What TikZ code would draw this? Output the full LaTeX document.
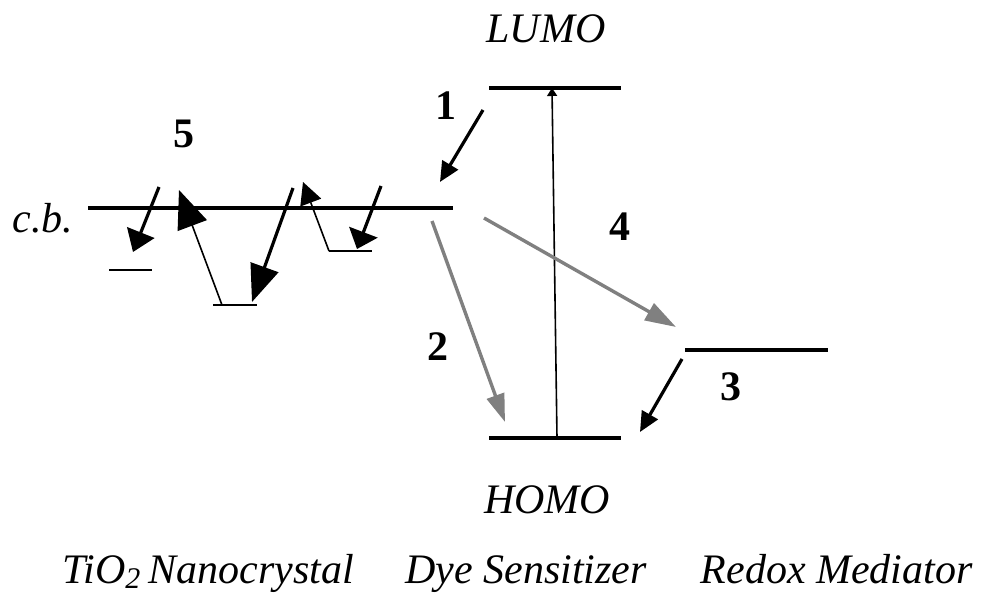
\documentclass[tikz,border=0pt]{standalone}
\usepackage{fontspec}
\setmainfont{Liberation Serif}
\usepackage{xcolor}
\definecolor{ctgray}{RGB}{128,128,128}
\usetikzlibrary{arrows.meta}
\tikzset{
  level/.style={line width=1.6pt},
  traplevel/.style={line width=0.8pt},
  lbl/.style={font=\fontsize{21}{25}\selectfont\itshape,inner sep=0pt,anchor=base},
  num/.style={font=\fontsize{21}{25}\selectfont\bfseries,inner sep=0pt},
  hop/.style={-{Triangle[length=10pt,width=9pt]},line width=1.6pt},
  hopthin/.style={-{Triangle[length=11pt,width=11pt]},line width=0.8pt},
  loss/.style={-{Triangle[length=14pt,width=9pt]},line width=1.7pt,draw=ctgray},
  excite/.style={-{Triangle[length=4pt,width=5pt]},line width=0.8pt},
}
\begin{document}
\begin{tikzpicture}[x=0.5pt,y=-0.5pt]
\useasboundingbox (0,0) rectangle (985,593);
% energy levels
\coordinate (cbL) at (88,208);   \coordinate (cbR) at (453,208);
\coordinate (lumoL) at (489,88); \coordinate (lumoR) at (621,88);
\coordinate (homoL) at (489,438);\coordinate (homoR) at (621,438);
\coordinate (redL) at (685,350); \coordinate (redR) at (828,350);
\coordinate (tAL) at (109,270);  \coordinate (tAR) at (152,270);
\coordinate (tBL) at (213,305);  \coordinate (tBR) at (257,305);
\coordinate (tCL) at (329,251);  \coordinate (tCR) at (372,251);
\draw[level] (cbL) -- (cbR);
\draw[level] (lumoL) -- (lumoR);
\draw[level] (homoL) -- (homoR);
\draw[level] (redL) -- (redR);
\draw[traplevel] (tAL) -- (tAR);
\draw[traplevel] (tBL) -- (tBR);
\draw[traplevel] (tCL) -- (tCR);
% trapping / detrapping in the TiO2
\coordinate (a0) at (159,187); \coordinate (a1) at (133,252);
\coordinate (b0) at (222,305); \coordinate (b1) at (179,190);
\coordinate (c0) at (293,188); \coordinate (c1) at (252,302);
\coordinate (d0) at (329,251); \coordinate (d1) at (303,182);
\coordinate (e0) at (381,186); \coordinate (e1) at (357,249);
\draw[hop,-{Triangle[length=10.5pt,width=14.5pt]}] (a0) -- (a1);
\draw[hopthin,-{Triangle[length=19pt,width=15.5pt]}] (b0) -- (b1);
\draw[hop,-{Triangle[length=18.5pt,width=14.5pt]}] (c0) -- (c1);
\draw[hopthin] (d0) -- (d1);
\draw[hop,-{Triangle[length=9pt,width=15pt]}] (e0) -- (e1);
% injection, recombination, regeneration
\coordinate (inj0) at (483,110);  \coordinate (inj1) at (440,182);
\coordinate (rec0) at (432,221);  \coordinate (rec1) at (505,422);
\coordinate (ox0) at (484,218);   \coordinate (ox1) at (676,327);
\coordinate (reg0) at (682,359);  \coordinate (reg1) at (640,432);
\coordinate (exB) at (557,438);   \coordinate (exT) at (552,88);
\draw[excite] (exB) -- (exT);
\draw[hop] (inj0) -- (inj1);
\draw[loss] (rec0) -- (rec1);
\draw[loss,-{Triangle[length=15.5pt,width=9.5pt]}] (ox0) -- (ox1);
\draw[hop] (reg0) -- (reg1);
% labels
\node[lbl] (lumo) at (546,43) {LUMO};
\node[lbl] (homo) at (547,513) {HOMO};
\node[lbl,anchor=base west] (cb) at (12,233) {c.b.};
\node[num] (n1) at (446,106) {1};
\node[num] (n2) at (438,347) {2};
\node[num] (n3) at (731,387) {3};
\node[num] (n4) at (620,227) {4};
\node[num] (n5) at (184,134) {5};
\node[lbl,anchor=base west] (tio) at (62,583) {TiO\raisebox{-0.3ex}{\fontsize{15}{16}\selectfont 2}\hspace{-1pt} Nanocrystal};
\node[lbl,anchor=base west] (dye) at (405,583) {Dye Sensitizer};
\node[lbl,anchor=base east] (redox) at (973,583) {Redox Mediator};
\end{tikzpicture}
\end{document}
